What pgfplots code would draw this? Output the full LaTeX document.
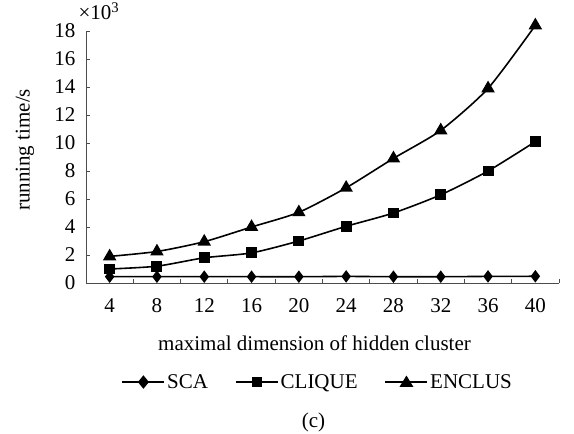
\documentclass[border=0pt]{standalone}
\usepackage{pgfplots}
\pgfplotsset{compat=1.18}
\usepackage{fontspec}
\setmainfont{Liberation Serif}
\newcommand{\bigf}{\fontsize{21bp}{24bp}\selectfont}
\begin{document}
\begin{tikzpicture}[font=\bigf]
\useasboundingbox (0,0) rectangle (574bp,434bp);
\begin{axis}[
  at={(86bp,151bp)}, anchor=south west,
  scale only axis, width=473bp, height=252bp,
  font=\bigf,
  tick label style={font=\bigf},
  label style={font=\bigf},
  xmin=0.5, xmax=10.5, ymin=0, ymax=18,
  axis x line*=bottom, axis y line*=left,
  axis line style={black!70, line width=0.9pt},
  xtick={0.5,1.5,...,10.5}, xticklabels={},
  extra x ticks={1,2,3,4,5,6,7,8,9,10},
  extra x tick labels={4,8,12,16,20,24,28,32,36,40},
  extra x tick style={major tick length=0pt, xticklabel style={yshift=-12bp}},
  ytick={0,2,...,18},
  yticklabel style={xshift=-7bp},
  tick align=inside, major tick length=4bp,
  tick style={black!70, line width=0.9pt},
  /pgf/number format/assume math mode=true,
  clip=false,
  xlabel={maximal dimension of hidden cluster},
  ylabel={running time/s},
  every axis x label/.style={at={(axis description cs:0.5,0)}, anchor=center, yshift=-60bp, xshift=-8bp},
  every axis y label/.style={at={(axis description cs:-0.129,0.528)}, anchor=center, rotate=90},
  legend columns=3,
  legend style={at={(rel axis cs:0.49,-0.393)}, anchor=center, draw=none, fill=none,
    font=\bigf, nodes={inner xsep=2bp},
    /tikz/every even column/.append style={column sep=25bp}},
  every axis plot/.append style={black, line width=1.6pt, smooth, tension=0.4},
]
\addplot[mark=diamond*, mark size=5bp, legend image code/.code={\draw[line width=1.6pt] (0bp,0bp)--(42bp,0bp); \fill (16.5bp,0bp) -- (21bp,5.5bp) -- (25.5bp,0bp) -- (21bp,-5.5bp) -- cycle;}] coordinates {
(1,0.45) (2,0.45) (3,0.45) (4,0.45) (5,0.45) (6,0.47) (7,0.45) (8,0.45) (9,0.47) (10,0.48)};
\addlegendentry{SCA}
\addplot[mark=square*, mark size=4.7bp, legend image code/.code={\draw[line width=1.6pt] (0bp,0bp)--(42bp,0bp); \fill (16.5bp,-4.5bp) rectangle (25.5bp,4.5bp);}] coordinates {
(1,1.0) (2,1.2) (3,1.8) (4,2.15) (5,3.0) (6,4.05) (7,5.0) (8,6.3) (9,8.0) (10,10.1)};
\addlegendentry{CLIQUE}
\addplot[mark=triangle*, mark size=6.2bp, legend image code/.code={\draw[line width=1.6pt] (0bp,0bp)--(42bp,0bp); \fill (15.5bp,-4bp) -- (26.5bp,-4bp) -- (21bp,5bp) -- cycle;}] coordinates {
(1,1.9) (2,2.25) (3,2.95) (4,4.0) (5,5.05) (6,6.8) (7,8.9) (8,10.9) (9,13.9) (10,18.4)};
\addlegendentry{ENCLUS}
\node[anchor=base west] at (rel axis cs:0,1) [xshift=-11bp, yshift=11bp] {×10\textsuperscript{3}};
\node[anchor=center] at (axis description cs:0.5,0) [xshift=-9bp, yshift=-139bp] {(c)};
\end{axis}
\end{tikzpicture}
\end{document}
